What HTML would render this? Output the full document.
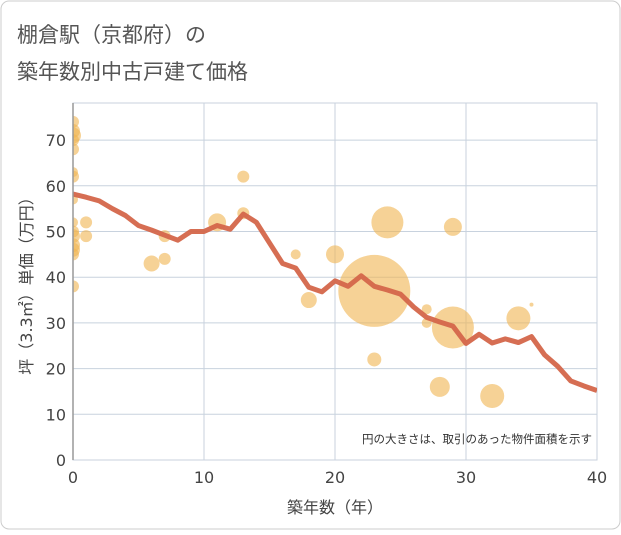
<!DOCTYPE html>
<html><head><meta charset="utf-8"><style>
body{margin:0;background:#fff}
svg text{font-family:"DejaVu Sans","Noto Sans CJK JP",sans-serif}
</style></head><body>
<svg width="621" height="530" viewBox="0 0 621 530">
<defs><clipPath id="pc"><rect x="73" y="103" width="524" height="357"/></clipPath></defs>
<rect x="1" y="1" width="619" height="528" rx="8" fill="#fff" stroke="#ccc"/>
<text x="17" y="42" font-size="21" fill="#555">棚倉駅（京都府）の</text>
<text x="17" y="79" font-size="21" fill="#555">築年数別中古戸建て価格</text>
<rect x="73" y="103" width="524" height="357" fill="#fff" stroke="#c8d2de"/>
<g id="grid"></g>
<g id="bubbles" clip-path="url(#pc)"></g>
<g id="line" clip-path="url(#pc)"></g>
<g id="axes"></g>
<text x="592" y="443" font-size="11.5" fill="#333" text-anchor="end">円の大きさは、取引のあった物件面積を示す</text>
<text x="335" y="513" font-size="16" fill="#444" text-anchor="middle">築年数（年）</text>
<text transform="translate(32,282) rotate(-90)" font-size="16" fill="#444" text-anchor="middle">坪（3.3㎡）単価（万円）</text>
</svg>
<script>
const xTicks=[0,10,20,30,40];
const yTicks=[0,10,20,30,40,50,60,70];
const lineYears=[0,1,2,3,4,5,6,7,8,9,10,11,12,13,14,15,16,17,18,19,20,21,22,23,24,25,26,27,28,29,30,31,32,33,34,35,36,37,38,39,40];
const lineValues=[58.2,57.5,56.7,55,53.5,51.3,50.3,49.2,48.1,50,50,51.3,50.5,53.8,52,47.5,43,42,37.8,36.8,39.2,38,40.3,38,37.2,36.3,33.5,31.2,30.2,29.3,25.5,27.5,25.6,26.5,25.7,27,23,20.5,17.3,16.2,15.2];
const bubbleX=[0,0,0,0,0,0,0,0,0,0,0,0,0,0,0,1,1,6,7,7,11,13,13,17,18,20,23,23,24,27,27,28,29,29,32,34,35];
const bubbleY=[74,72,71,70,68,63,62,57,52,50,49,47,46,45,38,52,49,43,44,49,52,62,54,45,35,45,37,22,52,33,30,16,51,29,14,31,34];
const bubbleR=[6,7,8,6,6,5,6,5,5,6,7,7,7,6,6,6,6,8,6,6,9,6,6,5,8,9,36,7,16,5,5,10,9,21,12,12,2];
const X=v=>73+v*(524/40);
const Y=v=>460-v*(45.7/10);
const ns='http://www.w3.org/2000/svg';
function mk(t,a,p){const e=document.createElementNS(ns,t);for(const k in a)e.setAttribute(k,a[k]);p.appendChild(e);return e;}
const g=document.getElementById('grid'),ax=document.getElementById('axes');
xTicks.forEach(t=>{
 const l=mk('line',{x1:X(t),x2:X(t),y1:103,y2:460,stroke:'#c8d2de','stroke-width':1},g);
 
 
 const tx=mk('text',{x:X(t),y:483,'font-size':16,fill:'#444','text-anchor':'middle'},ax);
 tx.textContent=t;
 
 
});
yTicks.forEach(t=>{
 const l=mk('line',{x1:73,x2:597,y1:Y(t),y2:Y(t),stroke:'#c8d2de','stroke-width':1},g);
 
 
 const tx=mk('text',{x:66,y:Y(t)+6,'font-size':16,fill:'#444','text-anchor':'end'},ax);
 tx.textContent=t;
 
 
});
const al=mk('line',{x1:73,x2:73,y1:103,y2:460,stroke:'#999','stroke-width':1.5},ax);


const b=document.getElementById('bubbles');
bubbleX.forEach((x,i)=>{
 const c=mk('circle',{cx:X(x),cy:Y(bubbleY[i]),r:bubbleR[i],fill:'#f0b450','fill-opacity':0.6},b);
 
 
});
const pts=lineYears.map((x,i)=>X(x)+','+Y(lineValues[i])).join(' ');
const p=mk('polyline',{points:pts,fill:'none',stroke:'#d4664a','stroke-width':5,'stroke-linejoin':'round','stroke-opacity':0.95},document.getElementById('line'));


</script>
</body></html>
